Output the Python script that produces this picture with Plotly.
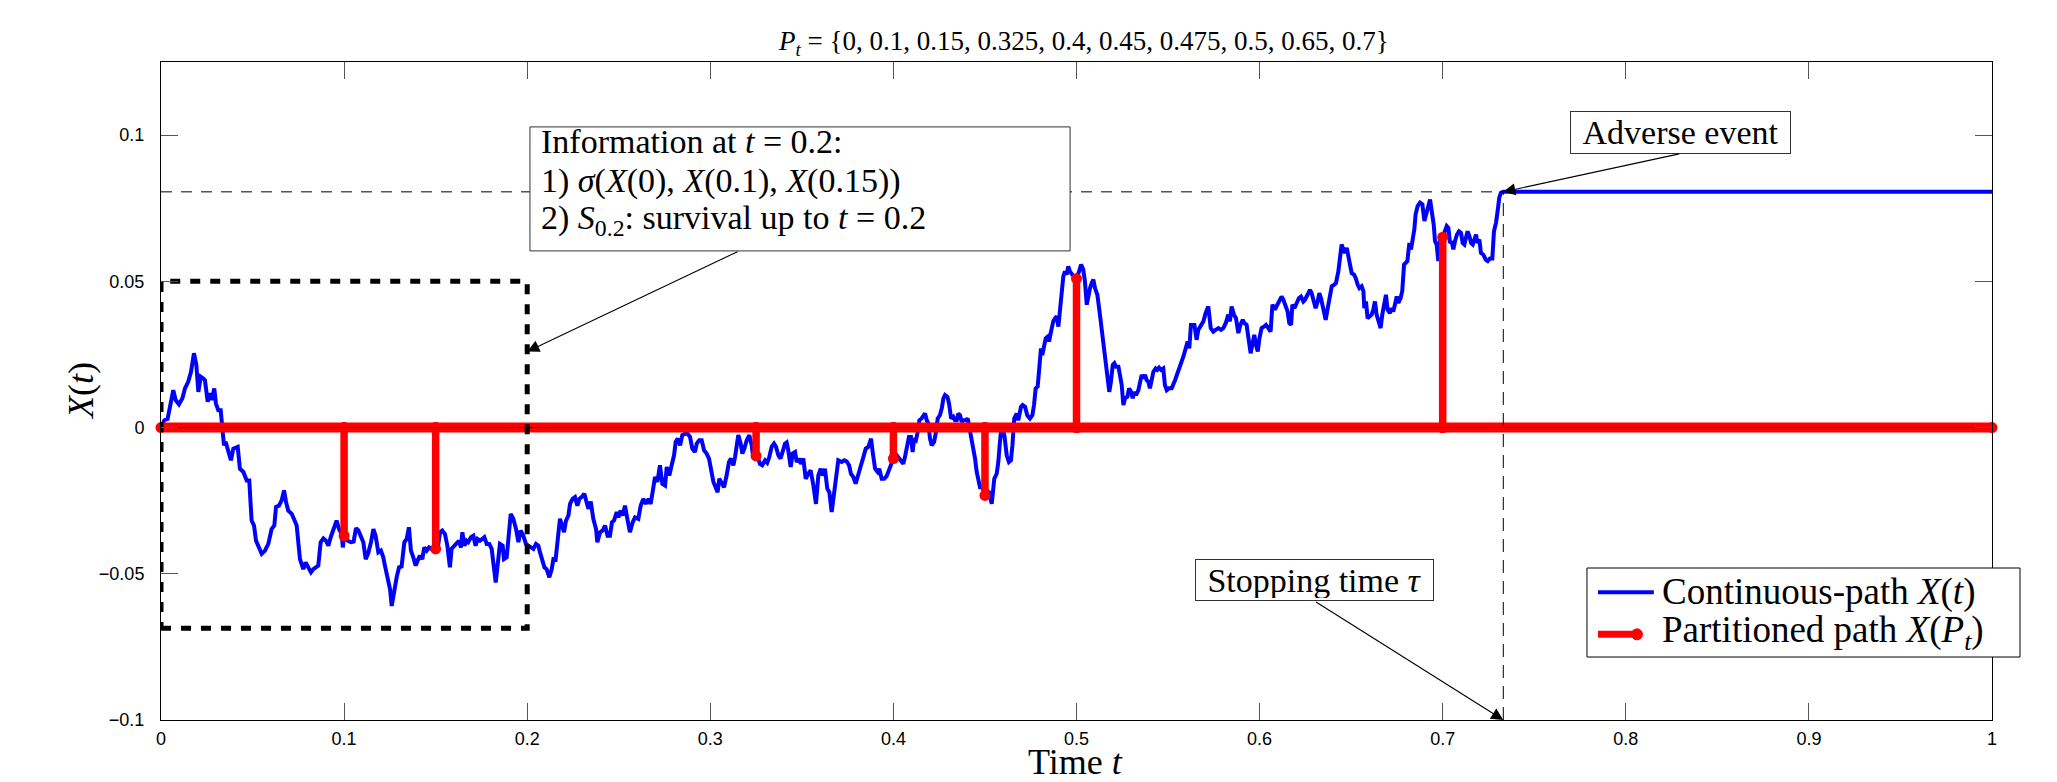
import plotly.graph_objects as go

# ---------------- data ----------------
partition_times = [0, 0.1, 0.15, 0.325, 0.4, 0.45, 0.475, 0.5, 0.65, 0.7]
stem_times = [0.1, 0.15, 0.325, 0.4, 0.45, 0.5, 0.7]
stem_values = [-0.0370, -0.0415, -0.0097, -0.0106, -0.0232, 0.0509, 0.0651]
stopping_time = 0.7331
barrier = 0.0806
info_window_t = [0.0, 0.2]
info_window_x = [-0.0686, 0.05]

x_ticks = [0, 0.1, 0.2, 0.3, 0.4, 0.5, 0.6, 0.7, 0.8, 0.9, 1]
x_tick_labels = ["0", "0.1", "0.2", "0.3", "0.4", "0.5", "0.6", "0.7", "0.8", "0.9", "1"]
y_ticks = [-0.1, -0.05, 0, 0.05, 0.1]
y_tick_labels = ["\u22120.1", "\u22120.05", "0", "0.05", "0.1"]

# continuous path X(t): (t, X)
path_samples = [
    (0.0000, 0.0), (0.0018, 0.0025), (0.0036, 0.0029), (0.0049, 0.0071), (0.0067, 0.0128),
    (0.0080, 0.0094), (0.0098, 0.0079), (0.0117, 0.0100), (0.0131, 0.0134), (0.0149, 0.0157),
    (0.0164, 0.0191), (0.0180, 0.0254), (0.0193, 0.0214), (0.0204, 0.0122), (0.0217, 0.0174),
    (0.0231, 0.0168), (0.0240, 0.0162), (0.0255, 0.0088), (0.0268, 0.0117), (0.0277, 0.0094),
    (0.0291, 0.0134), (0.0300, 0.0082), (0.0313, 0.0059), (0.0326, 0.0059), (0.0335, 0.0008),
    (0.0344, -0.0061), (0.0353, -0.0049), (0.0368, -0.0089), (0.0382, -0.0112), (0.0395, -0.0072),
    (0.0419, -0.0066), (0.0431, -0.0141), (0.0450, -0.0152), (0.0468, -0.0181), (0.0482, -0.0181),
    (0.0495, -0.0318), (0.0508, -0.0335), (0.0519, -0.0387), (0.0535, -0.0415), (0.0550, -0.0432),
    (0.0568, -0.0421), (0.0586, -0.0398), (0.0604, -0.0347), (0.0619, -0.0335), (0.0628, -0.0272),
    (0.0644, -0.0267), (0.0659, -0.0249), (0.0672, -0.0215), (0.0683, -0.0255), (0.0695, -0.0284),
    (0.0714, -0.0295), (0.0728, -0.0312), (0.0741, -0.0335), (0.0759, -0.0450), (0.0777, -0.0484),
    (0.0790, -0.0461), (0.0808, -0.0482), (0.0819, -0.0495), (0.0832, -0.0484), (0.0845, -0.0478),
    (0.0859, -0.0472), (0.0872, -0.0392), (0.0887, -0.0379), (0.0901, -0.0387), (0.0914, -0.0404),
    (0.0927, -0.0375), (0.0941, -0.0352), (0.0959, -0.0318), (0.0972, -0.0347), (0.0987, -0.0364),
    (0.0993, -0.0410), (0.1000, -0.0370), (0.1019, -0.0387), (0.1038, -0.0392), (0.1052, -0.0390),
    (0.1065, -0.0344), (0.1078, -0.0352), (0.1092, -0.0375), (0.1105, -0.0392), (0.1118, -0.0450),
    (0.1132, -0.0429), (0.1147, -0.0392), (0.1160, -0.0347), (0.1172, -0.0370), (0.1187, -0.0427),
    (0.1201, -0.0421), (0.1214, -0.0444), (0.1223, -0.0472), (0.1242, -0.0518), (0.1251, -0.0553),
    (0.1260, -0.0610), (0.1274, -0.0553), (0.1287, -0.0512), (0.1300, -0.0478), (0.1314, -0.0475),
    (0.1329, -0.0392), (0.1342, -0.0381), (0.1354, -0.0341), (0.1365, -0.0421), (0.1378, -0.0444),
    (0.1391, -0.0472), (0.1405, -0.0450), (0.1414, -0.0438), (0.1427, -0.0450), (0.1438, -0.0410),
    (0.1451, -0.0421), (0.1464, -0.0410), (0.1478, -0.0415), (0.1500, -0.0415), (0.1515, -0.0398),
    (0.1524, -0.0358), (0.1536, -0.0352), (0.1551, -0.0364), (0.1564, -0.0404), (0.1578, -0.0478),
    (0.1587, -0.0415), (0.1602, -0.0404), (0.1615, -0.0398), (0.1627, -0.0387), (0.1638, -0.0410),
    (0.1646, -0.0358), (0.1657, -0.0404), (0.1669, -0.0387), (0.1678, -0.0392), (0.1693, -0.0375),
    (0.1706, -0.0370), (0.1718, -0.0404), (0.1729, -0.0381), (0.1742, -0.0387), (0.1755, -0.0381),
    (0.1766, -0.0375), (0.1779, -0.0398), (0.1793, -0.0398), (0.1806, -0.0415), (0.1815, -0.0461),
    (0.1828, -0.0530), (0.1842, -0.0450), (0.1851, -0.0398), (0.1866, -0.0404), (0.1873, -0.0450),
    (0.1888, -0.0444), (0.1897, -0.0392), (0.1910, -0.0295), (0.1924, -0.0312), (0.1939, -0.0347),
    (0.1952, -0.0392), (0.1964, -0.0352), (0.1979, -0.0370), (0.1993, -0.0398), (0.2006, -0.0404),
    (0.2019, -0.0410), (0.2034, -0.0415), (0.2048, -0.0398), (0.2061, -0.0404), (0.2070, -0.0427),
    (0.2083, -0.0455), (0.2094, -0.0478), (0.2106, -0.0484), (0.2121, -0.0512), (0.2134, -0.0484),
    (0.2143, -0.0450), (0.2155, -0.0452), (0.2166, -0.0392), (0.2179, -0.0312), (0.2188, -0.0329),
    (0.2201, -0.0358), (0.2212, -0.0318), (0.2225, -0.0301), (0.2234, -0.0261), (0.2248, -0.0244),
    (0.2261, -0.0238), (0.2274, -0.0267), (0.2285, -0.0244), (0.2297, -0.0238), (0.2312, -0.0226),
    (0.2325, -0.0255), (0.2334, -0.0278), (0.2347, -0.0253), (0.2361, -0.0312), (0.2376, -0.0347),
    (0.2383, -0.0392), (0.2398, -0.0358), (0.2412, -0.0352), (0.2425, -0.0335), (0.2439, -0.0370),
    (0.2452, -0.0370), (0.2463, -0.0324), (0.2474, -0.0318), (0.2489, -0.0289), (0.2498, -0.0307),
    (0.2510, -0.0284), (0.2521, -0.0301), (0.2534, -0.0267), (0.2547, -0.0312), (0.2561, -0.0358),
    (0.2576, -0.0324), (0.2589, -0.0307), (0.2607, -0.0312), (0.2620, -0.0267), (0.2634, -0.0244),
    (0.2647, -0.0261), (0.2662, -0.0244), (0.2674, -0.0261), (0.2685, -0.0221), (0.2698, -0.0169),
    (0.2711, -0.0186), (0.2725, -0.0129), (0.2738, -0.0192), (0.2753, -0.0198), (0.2762, -0.0135),
    (0.2776, -0.0164), (0.2789, -0.0129), (0.2802, -0.0095), (0.2811, -0.0049), (0.2822, -0.0038),
    (0.2835, -0.0061), (0.2847, -0.0026), (0.2862, -0.0021), (0.2876, -0.0021), (0.2889, -0.0032),
    (0.2902, -0.0072), (0.2916, -0.0084), (0.2926, -0.0055), (0.2940, -0.0043), (0.2953, -0.0043),
    (0.2966, -0.0078), (0.2980, -0.0089), (0.2993, -0.0106), (0.3004, -0.0141), (0.3017, -0.0186),
    (0.3029, -0.0204), (0.3040, -0.0221), (0.3049, -0.0175), (0.3062, -0.0192), (0.3075, -0.0204),
    (0.3089, -0.0164), (0.3102, -0.0118), (0.3113, -0.0106), (0.3126, -0.0129), (0.3135, -0.0101),
    (0.3144, -0.0066), (0.3153, -0.0026), (0.3166, -0.0055), (0.3175, -0.0089), (0.3186, -0.0072),
    (0.3199, -0.0043), (0.3213, -0.0026), (0.3226, -0.0061), (0.3235, -0.0106), (0.3250, -0.0097),
    (0.3262, -0.0106), (0.3271, -0.0124), (0.3284, -0.0129), (0.3299, -0.0112), (0.3311, -0.0120),
    (0.3322, -0.0101), (0.3335, -0.0066), (0.3348, -0.0055), (0.3359, -0.0066), (0.3372, -0.0095),
    (0.3384, -0.0106), (0.3395, -0.0084), (0.3408, -0.0055), (0.3417, -0.0051), (0.3426, -0.0078),
    (0.3439, -0.0135), (0.3450, -0.0089), (0.3463, -0.0084), (0.3472, -0.0118), (0.3484, -0.0106),
    (0.3495, -0.0124), (0.3508, -0.0106), (0.3521, -0.0175), (0.3535, -0.0158), (0.3548, -0.0146),
    (0.3563, -0.0198), (0.3577, -0.0261), (0.3590, -0.0164), (0.3603, -0.0141), (0.3614, -0.0164),
    (0.3626, -0.0141), (0.3639, -0.0209), (0.3650, -0.0221), (0.3663, -0.0289), (0.3676, -0.0226),
    (0.3690, -0.0175), (0.3699, -0.0112), (0.3717, -0.0118), (0.3732, -0.0112), (0.3745, -0.0116),
    (0.3758, -0.0129), (0.3768, -0.0158), (0.3781, -0.0169), (0.3794, -0.0192), (0.3809, -0.0152),
    (0.3823, -0.0129), (0.3836, -0.0101), (0.3849, -0.0072), (0.3863, -0.0066), (0.3878, -0.0038),
    (0.3887, -0.0084), (0.3900, -0.0141), (0.3914, -0.0152), (0.3923, -0.0141), (0.3936, -0.0175),
    (0.3950, -0.0175), (0.3963, -0.0166), (0.3976, -0.0146), (0.4000, -0.0106), (0.4018, -0.0095),
    (0.4031, -0.0106), (0.4041, -0.0118), (0.4054, -0.0124), (0.4063, -0.0101), (0.4076, -0.0055),
    (0.4085, -0.0032), (0.4096, -0.0032), (0.4105, -0.0084), (0.4113, -0.0038), (0.4123, -0.0043),
    (0.4133, -0.0015), (0.4142, 0.0025), (0.4154, 0.0031), (0.4163, 0.0042), (0.4173, 0.0048),
    (0.4182, 0.0025), (0.4191, 0.0014), (0.4200, -0.0038), (0.4209, -0.0061), (0.4222, -0.0049),
    (0.4231, -0.0021), (0.4242, 0.0031), (0.4254, 0.0042), (0.4264, 0.0065), (0.4273, 0.0100),
    (0.4282, 0.0111), (0.4295, 0.0105), (0.4304, 0.0082), (0.4315, 0.0031), (0.4327, 0.0037),
    (0.4336, 0.0025), (0.4346, 0.0025), (0.4355, 0.0048), (0.4364, 0.0042), (0.4373, 0.0019),
    (0.4382, 0.0025), (0.4395, 0.0025), (0.4406, 0.0031), (0.4413, 0.0008), (0.4424, -0.0026),
    (0.4437, -0.0061), (0.4446, -0.0106), (0.4455, -0.0152), (0.4464, -0.0186), (0.4473, -0.0204),
    (0.4486, -0.0204), (0.4500, -0.0232), (0.4509, -0.0215), (0.4522, -0.0221), (0.4537, -0.0261),
    (0.4546, -0.0204), (0.4551, -0.0175), (0.4564, -0.0158), (0.4573, -0.0118), (0.4582, -0.0049),
    (0.4591, 0.0008), (0.4606, -0.0026), (0.4619, -0.0095), (0.4631, -0.0118), (0.4642, -0.0112),
    (0.4650, -0.0061), (0.4660, 0.0031), (0.4673, 0.0048), (0.4682, 0.0025), (0.4697, 0.0071),
    (0.4706, 0.0077), (0.4719, 0.0071), (0.4731, 0.0042), (0.4746, 0.0031), (0.4759, 0.0042),
    (0.4768, 0.0077), (0.4777, 0.0134), (0.4788, 0.0140), (0.4797, 0.0214), (0.4806, 0.0271),
    (0.4813, 0.0248), (0.4824, 0.0277), (0.4832, 0.0305), (0.4843, 0.0311), (0.4850, 0.0294),
    (0.4861, 0.0328), (0.4873, 0.0363), (0.4883, 0.0374), (0.4892, 0.0380), (0.4901, 0.0345),
    (0.4910, 0.0408), (0.4919, 0.0454), (0.4928, 0.0517), (0.4937, 0.0534), (0.4946, 0.0523),
    (0.4955, 0.0551), (0.4964, 0.0534), (0.4977, 0.0523), (0.5000, 0.0509), (0.5014, 0.0534),
    (0.5025, 0.0557), (0.5037, 0.0540), (0.5046, 0.0500), (0.5056, 0.0420), (0.5065, 0.0454),
    (0.5074, 0.0477), (0.5083, 0.0494), (0.5092, 0.0506), (0.5101, 0.0477), (0.5114, 0.0454),
    (0.5128, 0.0386), (0.5143, 0.0305), (0.5156, 0.0248), (0.5168, 0.0168), (0.5179, 0.0122),
    (0.5188, 0.0157), (0.5198, 0.0214), (0.5207, 0.0220), (0.5216, 0.0208), (0.5229, 0.0208),
    (0.5238, 0.0180), (0.5247, 0.0145), (0.5256, 0.0077), (0.5265, 0.0100), (0.5278, 0.0105),
    (0.5287, 0.0134), (0.5298, 0.0122), (0.5307, 0.0100), (0.5316, 0.0122), (0.5325, 0.0111),
    (0.5338, 0.0128), (0.5347, 0.0157), (0.5356, 0.0180), (0.5365, 0.0168), (0.5374, 0.0180),
    (0.5383, 0.0162), (0.5392, 0.0157), (0.5401, 0.0134), (0.5411, 0.0168), (0.5420, 0.0191),
    (0.5432, 0.0202), (0.5441, 0.0197), (0.5451, 0.0205), (0.5462, 0.0197), (0.5474, 0.0202),
    (0.5483, 0.0145), (0.5493, 0.0128), (0.5505, 0.0134), (0.5520, 0.0134), (0.5538, 0.0162),
    (0.5584, 0.0243), (0.5596, 0.0265), (0.5607, 0.0294), (0.5616, 0.0271), (0.5625, 0.0351),
    (0.5644, 0.0351), (0.5656, 0.0300), (0.5665, 0.0334), (0.5680, 0.0351), (0.5693, 0.0363),
    (0.5705, 0.0391), (0.5720, 0.0414), (0.5733, 0.0340), (0.5747, 0.0328), (0.5760, 0.0334),
    (0.5775, 0.0340), (0.5789, 0.0334), (0.5802, 0.0340), (0.5815, 0.0357), (0.5829, 0.0386),
    (0.5838, 0.0363), (0.5847, 0.0414), (0.5860, 0.0386), (0.5871, 0.0374), (0.5884, 0.0323),
    (0.5895, 0.0351), (0.5908, 0.0368), (0.5917, 0.0357), (0.5929, 0.0351), (0.5939, 0.0305),
    (0.5951, 0.0254), (0.5960, 0.0283), (0.5971, 0.0317), (0.5980, 0.0283), (0.5990, 0.0260),
    (0.5999, 0.0305), (0.6011, 0.0340), (0.6024, 0.0345), (0.6035, 0.0351), (0.6048, 0.0340),
    (0.6060, 0.0328), (0.6070, 0.0420), (0.6084, 0.0403), (0.6097, 0.0420), (0.6108, 0.0431),
    (0.6120, 0.0448), (0.6130, 0.0437), (0.6142, 0.0420), (0.6153, 0.0397), (0.6162, 0.0357),
    (0.6172, 0.0351), (0.6179, 0.0420), (0.6190, 0.0408), (0.6203, 0.0426), (0.6215, 0.0443),
    (0.6226, 0.0448), (0.6239, 0.0431), (0.6248, 0.0437), (0.6263, 0.0454), (0.6275, 0.0471),
    (0.6284, 0.0460), (0.6295, 0.0431), (0.6306, 0.0408), (0.6317, 0.0431), (0.6326, 0.0460),
    (0.6335, 0.0443), (0.6348, 0.0397), (0.6361, 0.0368), (0.6372, 0.0408), (0.6384, 0.0454),
    (0.6394, 0.0483), (0.6406, 0.0488), (0.6417, 0.0494), (0.6430, 0.0534), (0.6439, 0.0591),
    (0.6448, 0.0626), (0.6457, 0.0609), (0.6466, 0.0597), (0.6476, 0.0614), (0.6485, 0.0586),
    (0.6494, 0.0546), (0.6503, 0.0528), (0.6516, 0.0523), (0.6525, 0.0511), (0.6536, 0.0488),
    (0.6545, 0.0477), (0.6557, 0.0483), (0.6567, 0.0466), (0.6572, 0.0408), (0.6581, 0.0431),
    (0.6590, 0.0374), (0.6601, 0.0380), (0.6612, 0.0386), (0.6621, 0.0403), (0.6630, 0.0431),
    (0.6639, 0.0386), (0.6648, 0.0368), (0.6661, 0.0340), (0.6670, 0.0386), (0.6681, 0.0431),
    (0.6690, 0.0454), (0.6699, 0.0403), (0.6712, 0.0391), (0.6721, 0.0408), (0.6730, 0.0397),
    (0.6739, 0.0420), (0.6749, 0.0448), (0.6758, 0.0426), (0.6770, 0.0443), (0.6779, 0.0466),
    (0.6789, 0.0557), (0.6798, 0.0563), (0.6807, 0.0569), (0.6818, 0.0631), (0.6827, 0.0609),
    (0.6836, 0.0643), (0.6845, 0.0677), (0.6852, 0.0729), (0.6863, 0.0757), (0.6876, 0.0769),
    (0.6889, 0.0763), (0.6900, 0.0706), (0.6909, 0.0729), (0.6918, 0.0757), (0.6931, 0.0780),
    (0.6940, 0.0740), (0.6951, 0.0694), (0.6958, 0.0637), (0.6967, 0.0626), (0.6976, 0.0569),
    (0.6985, 0.0643), (0.7000, 0.0651), (0.7013, 0.0671), (0.7022, 0.0689), (0.7031, 0.0683),
    (0.7040, 0.0631), (0.7049, 0.0637), (0.7058, 0.0609), (0.7067, 0.0637), (0.7078, 0.0660),
    (0.7089, 0.0671), (0.7100, 0.0666), (0.7109, 0.0631), (0.7118, 0.0626), (0.7127, 0.0649),
    (0.7136, 0.0671), (0.7146, 0.0654), (0.7155, 0.0631), (0.7164, 0.0626), (0.7173, 0.0649),
    (0.7182, 0.0660), (0.7191, 0.0631), (0.7200, 0.0643), (0.7209, 0.0597), (0.7222, 0.0591),
    (0.7235, 0.0574), (0.7246, 0.0569), (0.7258, 0.0578), (0.7271, 0.0578), (0.7280, 0.0671),
    (0.7291, 0.0700), (0.7300, 0.0740), (0.7309, 0.0786), (0.7318, 0.0803), (0.7331, 0.0806),
    (1.0000, 0.0806),
]

SERIF = "Liberation Serif"
SANS = "Liberation Sans"
BLUE = "#0000FF"
RED = "#FF0000"

path_t = [p[0] for p in path_samples]
path_x = [p[1] for p in path_samples]

# partitioned path: zero except stems at partition times
part_t, part_x = [0.0], [0.0]
for t, v in zip(stem_times, stem_values):
    part_t += [t, t, t]
    part_x += [0.0, v, 0.0]
part_t.append(1.0)
part_x.append(0.0)

fig = go.Figure()

fig.add_trace(go.Scatter(
    x=path_t, y=path_x, mode="lines", name="Continuous-path X(t)",
    line=dict(color=BLUE, width=4), showlegend=False))

fig.add_trace(go.Scatter(
    x=[0, 1], y=[0, 0], mode="lines", line=dict(color=RED, width=10),
    showlegend=False, hoverinfo="skip"))

fig.add_trace(go.Scatter(
    x=part_t, y=part_x, mode="lines+markers", name="Partitioned path X(P_t)",
    line=dict(color=RED, width=7.5),
    marker=dict(color=RED, size=11, symbol="circle"),
    cliponaxis=False, showlegend=False))

fig.add_trace(go.Scatter(
    x=[0, 1], y=[0, 0], mode="lines", line=dict(color="black", width=1),
    showlegend=False, hoverinfo="skip"))

# barrier and stopping-time dashed guides
fig.add_trace(go.Scatter(
    x=[0, stopping_time], y=[barrier, barrier], mode="lines",
    line=dict(color="black", width=1, dash="11px,9px"), showlegend=False, hoverinfo="skip"))
fig.add_trace(go.Scatter(
    x=[stopping_time, stopping_time], y=[-0.1, barrier], mode="lines",
    line=dict(color="black", width=1, dash="13px,8px"), showlegend=False, hoverinfo="skip"))

# information window (thick dashed box)
t0, t1 = info_window_t
x0, x1 = info_window_x
fig.add_trace(go.Scatter(
    x=[t0, t1, t1, t0, t0], y=[x0, x0, x1, x1, x0], mode="lines",
    line=dict(color="black", width=5, dash="10px,10px"), showlegend=False, hoverinfo="skip"))

# ---------- annotation boxes ----------
shapes = [
    dict(type="rect", xref="x", yref="y", x0=0.2015, x1=0.4965, y0=0.0604, y1=0.1028,
         line=dict(color="#333333", width=1), fillcolor="white", layer="above"),
    # legend frame and samples
    dict(type="rect", xref="paper", yref="paper", x0=0.7788, x1=1.0153, y0=0.0957, y1=0.2310,
         line=dict(color="black", width=1), fillcolor="white", layer="above"),
    dict(type="line", xref="paper", yref="paper", x0=0.7848, x1=0.8153, y0=0.1941, y1=0.1941,
         line=dict(color=BLUE, width=4), layer="above"),
    dict(type="line", xref="paper", yref="paper", x0=0.7848, x1=0.8061, y0=0.1302, y1=0.1302,
         line=dict(color=RED, width=7), layer="above"),
    dict(type="circle", xref="paper", yref="paper", xsizemode="pixel", ysizemode="pixel",
         xanchor=0.8061, yanchor=0.1302, x0=-5.5, x1=5.5, y0=-5.5, y1=5.5,
         line=dict(color=RED, width=1), fillcolor=RED, layer="above"),
]

info_lines = [
    "Information at <i>t</i> = 0.2:",
    "1) <i>\u03c3</i>(<i>X</i>(0), <i>X</i>(0.1), <i>X</i>(0.15))",
    "2) <i>S</i><sub>0.2</sub>: survival up to <i>t</i> = 0.2",
]
info_line_y = [0.0978, 0.0843, 0.0710]
annotations = []
for txt, yy in zip(info_lines, info_line_y):
    annotations.append(dict(x=0.2064, y=yy, xref="x", yref="y", text=txt, showarrow=False,
                            xanchor="left", yanchor="middle", align="left",
                            font=dict(family=SERIF, size=34, color="black")))

annotations.append(dict(x=0.8299, y=0.1010, xref="x", yref="y", text="Adverse event",
                        showarrow=False, xanchor="center", yanchor="middle",
                        width=215, height=37, borderpad=2, bgcolor="white",
                        bordercolor="#333333", borderwidth=1,
                        font=dict(family=SERIF, size=34, color="black")))
annotations.append(dict(x=0.630, y=-0.0522, xref="x", yref="y", text="Stopping time <i>\u03c4</i>",
                        showarrow=False, xanchor="center", yanchor="middle",
                        width=233, height=36, borderpad=2, bgcolor="white",
                        bordercolor="#333333", borderwidth=1,
                        font=dict(family=SERIF, size=34, color="black")))

# legend texts
legend_labels = ["Continuous-path <i>X</i>(<i>t</i>)",
                 "Partitioned path <i>X</i>(<i>P<sub>t</sub></i>)"]
legend_y = [0.1950, 0.1330]
for txt, yy in zip(legend_labels, legend_y):
    annotations.append(dict(x=0.8187, y=yy, xref="paper", yref="paper", text=txt,
                            showarrow=False, xanchor="left", yanchor="middle", align="left",
                            font=dict(family=SERIF, size=37, color="black")))

# arrows
arrow_style = dict(showarrow=True, arrowhead=2, arrowsize=2.2, arrowwidth=1.1,
                   arrowcolor="black", xref="x", yref="y", axref="x", ayref="y", text="")
annotations.append(dict(x=0.2, y=0.026, ax=0.3157, ay=0.0604, **arrow_style))
annotations.append(dict(x=stopping_time, y=barrier, ax=0.830, ay=0.0937, **arrow_style))
annotations.append(dict(x=stopping_time, y=-0.1, ax=0.630, ay=-0.0593, **arrow_style))

# axis titles
annotations.append(dict(x=0.4997, y=-0.0645, xref="paper", yref="paper", text="Time <i>t</i>",
                        showarrow=False, xanchor="center", yanchor="middle",
                        font=dict(family=SERIF, size=36, color="black")))
annotations.append(dict(x=-0.0437, y=0.5, xref="paper", yref="paper",
                        text="<i>X</i>(<i>t</i>)", textangle=-90,
                        showarrow=False, xanchor="center", yanchor="middle",
                        font=dict(family=SERIF, size=36, color="black")))

title_text = "<i>P<sub>t</sub></i> = {" + ", ".join(str(p) for p in partition_times) + "}"

fig.update_layout(
    width=2049, height=774,
    margin=dict(l=153, r=65, t=54, b=62, autoexpand=False),
    paper_bgcolor="white", plot_bgcolor="white",
    showlegend=False,
    title=dict(text=title_text, xref="paper", x=0.504, xanchor="center",
               yref="container", y=1 - 32.7 / 774, yanchor="middle",
               font=dict(family=SERIF, size=27, color="black")),
    shapes=shapes,
    annotations=annotations,
    xaxis=dict(range=[0, 1], tickvals=x_ticks, ticktext=x_tick_labels, ticks="inside",
               ticklen=17, tickcolor="#555555", tickwidth=1, showline=True, linecolor="black",
               linewidth=1, mirror="allticks", showgrid=False, zeroline=False,
               ticklabelstandoff=2, tickfont=dict(family=SANS, size=18, color="black")),
    yaxis=dict(range=[-0.1, 0.125], tickvals=y_ticks, ticktext=y_tick_labels, ticks="inside",
               ticklen=17, tickcolor="#555555", tickwidth=1, showline=True, linecolor="black",
               linewidth=1, mirror="allticks", showgrid=False, zeroline=False,
               ticklabelstandoff=12, tickfont=dict(family=SANS, size=18, color="black")),
)

fig.write_html("out.html")
